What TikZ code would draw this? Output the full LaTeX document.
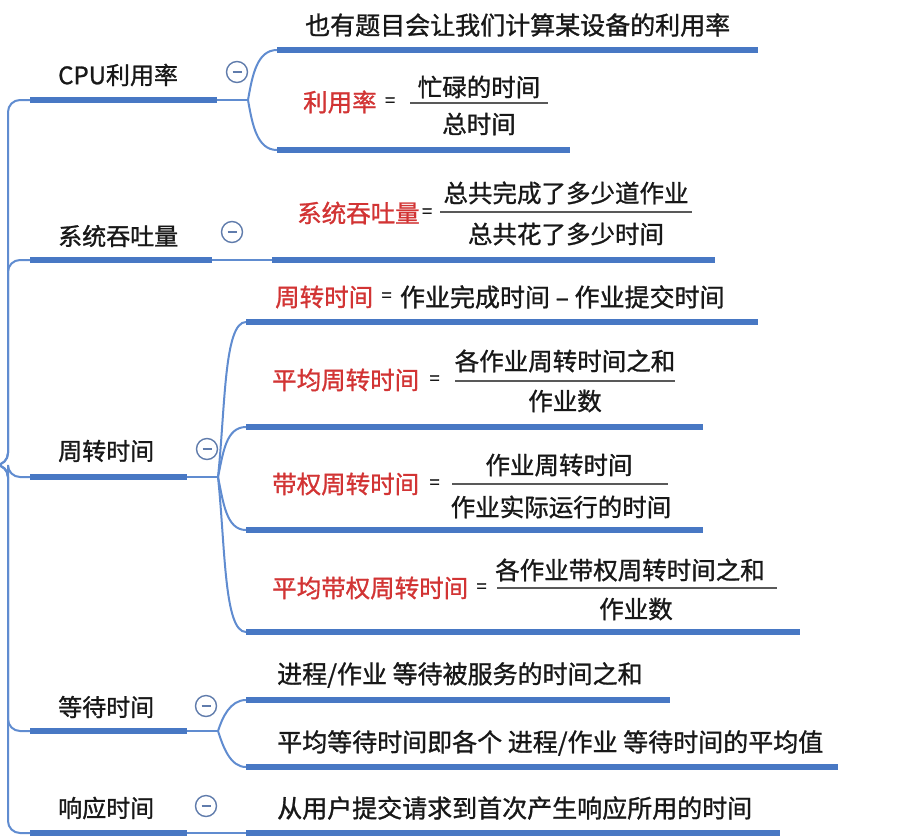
\documentclass[tikz,border=0pt]{standalone}
\usepackage{fontspec}
\setmainfont{Noto Sans CJK SC}[FakeBold=1.1]
\usepackage{xcolor}
\usetikzlibrary{positioning}
\definecolor{barblue}{RGB}{72,120,196}
\definecolor{linkblue}{RGB}{96,140,208}
\definecolor{formred}{RGB}{210,52,52}
\definecolor{foldgray}{RGB}{96,124,172}
\definecolor{ink}{RGB}{24,24,24}

\begin{document}
\begin{tikzpicture}[x=1pt,y=-1pt,
  bar/.style={line width=6pt,barblue},
  link/.style={line width=2pt,linkblue},
  topic/.style={anchor=west,inner sep=0pt,text=ink,font=\fontsize{24}{28}\selectfont},
  leaf/.style={topic,font=\fontsize{25}{29}\selectfont},
  keyword/.style={topic,text=formred,font=\fontsize{24.5}{28}\selectfont},
  eqsign/.style={inner sep=0pt,text=ink,font=\fontsize{18}{20}\selectfont},
  part/.style={inner sep=0pt,text=ink,font=\fontsize{24.5}{28}\selectfont},
  fracline/.style={line width=1.5pt,black!65},
  fold/.style={circle,draw=foldgray,line width=1.4pt,minimum size=21pt,inner sep=0pt,
    path picture={\draw[foldgray,line width=1.4pt] ([xshift=6pt]path picture bounding box.west) -- ([xshift=-6pt]path picture bounding box.east);}}]
\useasboundingbox (0,0) rectangle (904,838);
\fill[white] (0,0) rectangle (904,838);
\coordinate (root) at (-14,465);
\foreach \n/\y/\a/\b in {cpu/100/30/217,tput/260/30/212,tat/477/30/187,wait/731/30/187,resp/833/30/187,
    cpuA/50/277/758,cpuB/150/277/570,tputA/260/272/715,
    tatA/322/246/758,tatB/427/246/703,tatC/530/246/703,tatD/632/246/800,
    waitA/700/246/670,waitB/767/246/838,respA/833/246/780}{
  \coordinate (\n-l) at (\a,\y);
  \coordinate (\n-r) at (\b,\y);
  \draw[bar] (\n-l) -- (\n-r);
}
\coordinate (cpu-b) at (248,100);
\coordinate (tat-b) at (218,477);
\coordinate (wait-b) at (218,731);
\foreach \n in {cpu,tput,tat,wait,resp}
  \draw[link,rounded corners=12pt] (root) -- ++(22,0) |- (\n-l);
\draw[link] (cpu-r) -- (cpu-b);
\draw[link] (tat-r) -- (tat-b);
\draw[link] (wait-r) -- (wait-b);
\draw[link] (tput-r) -- (tputA-l);
\draw[link] (resp-r) -- (respA-l);
\foreach \p/\c/\ang/\d/\e in {cpu/cpuA/80/25/20,cpu/cpuB/-80/25/20,
    tat/tatA/84/70/22,tat/tatB/78/25/20,tat/tatC/-78/25/20,tat/tatD/-84/70/22,
    wait/waitA/72/14/16,wait/waitB/-72/16/16}
  \draw[link] (\p-b) to[out=\ang,in=180,out distance=\d pt,in distance=\e pt] (\c-l);

\node[topic] (cpu-t) at (58,75) {CPU利用率};
\node[topic] (tput-t) at (58,236) {系统吞吐量};
\node[topic] (tat-t) at (58,451) {周转时间};
\node[topic] (wait-t) at (58,707) {等待时间};
\node[topic] (resp-t) at (58,808) {响应时间};
\node[fold] (cpu-f) at (237,72) {};
\node[fold] (tput-f) at (232,232) {};
\node[fold] (tat-f) at (207,449) {};
\node[fold] (wait-f) at (206,706) {};
\node[fold] (resp-f) at (206,806) {};

\node[leaf] (cpuA-t) at (305,25) {也有题目会让我们计算某设备的利用率};
\node[keyword] (cpuB-k) at (303,102) {利用率};
\node[eqsign,right=8pt of cpuB-k] (cpuB-eq) {=};
\node[part] (cpuB-n) at (479,87) {忙碌的时间};
\node[part] (cpuB-d) at (479,124) {总时间};
\draw[fracline] (410,103) -- (548,103);

\node[keyword] (tputA-k) at (297,213) {系统吞吐量};
\node[eqsign,right=2pt of tputA-k] (tputA-eq) {=};
\node[part] (tputA-n) at (566,193) {总共完成了多少道作业};
\node[part] (tputA-d) at (566,234) {总共花了多少时间};
\draw[fracline] (440,212) -- (692,212);

\node[keyword] (tatA-k) at (275,297) {周转时间};
\node[eqsign,right=8pt of tatA-k] (tatA-eq) {=};
\node[leaf,right=8pt of tatA-eq] (tatA-t) {作业完成时间 – 作业提交时间};

\node[keyword] (tatB-k) at (272,380) {平均周转时间};
\node[eqsign,right=10pt of tatB-k] (tatB-eq) {=};
\node[part] (tatB-n) at (565,361) {各作业周转时间之和};
\node[part] (tatB-d) at (565,401) {作业数};
\draw[fracline] (455,381) -- (675,381);

\node[keyword] (tatC-k) at (272,484) {带权周转时间};
\node[eqsign,right=10pt of tatC-k] (tatC-eq) {=};
\node[part] (tatC-n) at (559,465) {作业周转时间};
\node[part] (tatC-d) at (561,507) {作业实际运行的时间};
\draw[fracline] (452,484) -- (668,484);

\node[keyword] (tatD-k) at (272,588) {平均带权周转时间};
\node[eqsign,right=8pt of tatD-k] (tatD-eq) {=};
\node[part] (tatD-n) at (630,570) {各作业带权周转时间之和};
\node[part] (tatD-d) at (636,609) {作业数};
\draw[fracline] (497,588) -- (777,588);

\node[leaf] (waitA-t) at (277,675) {进程/作业 等待被服务的时间之和};
\node[leaf] (waitB-t) at (277,743) {平均等待时间即各个 进程/作业 等待时间的平均值};
\node[leaf] (respA-t) at (277,808) {从用户提交请求到首次产生响应所用的时间};
\end{tikzpicture}
\end{document}
